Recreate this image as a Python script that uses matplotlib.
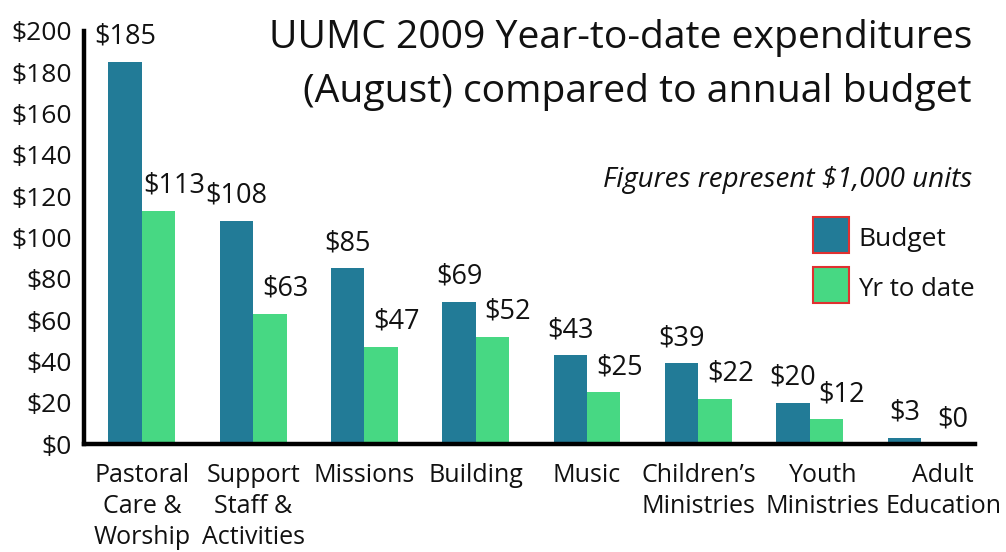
import matplotlib
matplotlib.use("Agg")
import matplotlib.pyplot as plt
import matplotlib.transforms as mtransforms
import numpy as np
from matplotlib.patches import Rectangle

categories = ["Pastoral\nCare &\nWorship", "Support\nStaff &\nActivities", "Missions",
              "Building", "Music", "Children\u2019s\nMinistries", "Youth\nMinistries",
              "Adult\nEducation"]
budget = [185, 108, 85, 69, 43, 39, 20, 3]
ytd = [113, 63, 47, 52, 25, 22, 12, 0]
yticks = [0, 20, 40, 60, 80, 100, 120, 140, 160, 180, 200]
ytick_labels = ["$" + str(v) for v in yticks]
series_names = ["Budget", "Yr to date"]
title_lines = ["UUMC 2009 Year-to-date expenditures", "(August) compared to annual budget"]
note = "Figures represent $1,000 units"

c_budget = "#227b97"
c_ytd = "#47d883"
FONT = "Open Sans"
plt.rcParams['font.family'] = [FONT, 'DejaVu Sans']

W, H = 1006, 552
fig = plt.figure(figsize=(W / 100, H / 100), dpi=100)
ax_l, ax_r, ax_b, ax_t = 84, 975, 444, 31
ax = fig.add_axes([ax_l / W, (H - ax_b) / H, (ax_r - ax_l) / W, (ax_b - ax_t) / H])

x = np.arange(len(categories))
bw = 0.30
ax.bar(x - bw / 2, budget, bw, color=c_budget, zorder=2)
ax.bar(x + bw / 2, ytd, bw, color=c_ytd, zorder=2)
ax.set_xlim(-0.52, 7.485)
ax.set_ylim(0, 198)

for xi, v in zip(x, budget):
    ax.annotate("$" + str(v), (xi - bw / 2, v), xytext=(0, 18), textcoords="offset points",
                ha="center", va="center", fontsize=19.5, color="#111111")
for xi, v in zip(x, ytd):
    ax.annotate("$" + str(v), (xi + bw / 2, v), xytext=(11, 18), textcoords="offset points",
                ha="center", va="center", fontsize=19.5, color="#111111")

for s in ["top", "right"]:
    ax.spines[s].set_visible(False)
for s in ["left", "bottom"]:
    ax.spines[s].set_linewidth(3.2)
    ax.spines[s].set_color("black")
ax.set_yticks(yticks)
ax.set_yticklabels(ytick_labels, fontsize=19, color="#111111")
ax.tick_params(axis="y", length=0, pad=9)
ax.set_xticks(x)
ax.set_xticklabels(categories, fontsize=18, color="#111111", linespacing=1.3, va="top")
ax.tick_params(axis="x", length=0, pad=14)
label_shift_px = [0, 0, 0, 0, 0, 0, 13, 22]
for lab, dx in zip(ax.get_xticklabels(), label_shift_px):
    lab.set_transform(lab.get_transform() + mtransforms.ScaledTranslation(dx / 100, 0, fig.dpi_scale_trans))

fig.text(972 / W, 1 - 38 / H, title_lines[0], ha="right", va="center", fontsize=28.2, color="#111111")
fig.text(972 / W, 1 - 92 / H, title_lines[1], ha="right", va="center", fontsize=28.2, color="#111111")
fig.text(972 / W, 1 - 180 / H, note, ha="right", va="center", fontsize=20, style="italic", color="#111111")

legend_sizes = [19, 18.5]
for i, (nm, col) in enumerate(zip(series_names, [c_budget, c_ytd])):
    y0 = 217 + i * 50
    fig.patches.append(Rectangle((813 / W, 1 - (y0 + 36) / H), 36 / W, 36 / H, transform=fig.transFigure,
                                 facecolor=col, edgecolor="#e03030", linewidth=1.5))
    fig.text(858 / W, 1 - (y0 + 22) / H, nm, ha="left", va="center", fontsize=legend_sizes[i], color="#111111")

fig.savefig("out.png", dpi=100, facecolor="white")
